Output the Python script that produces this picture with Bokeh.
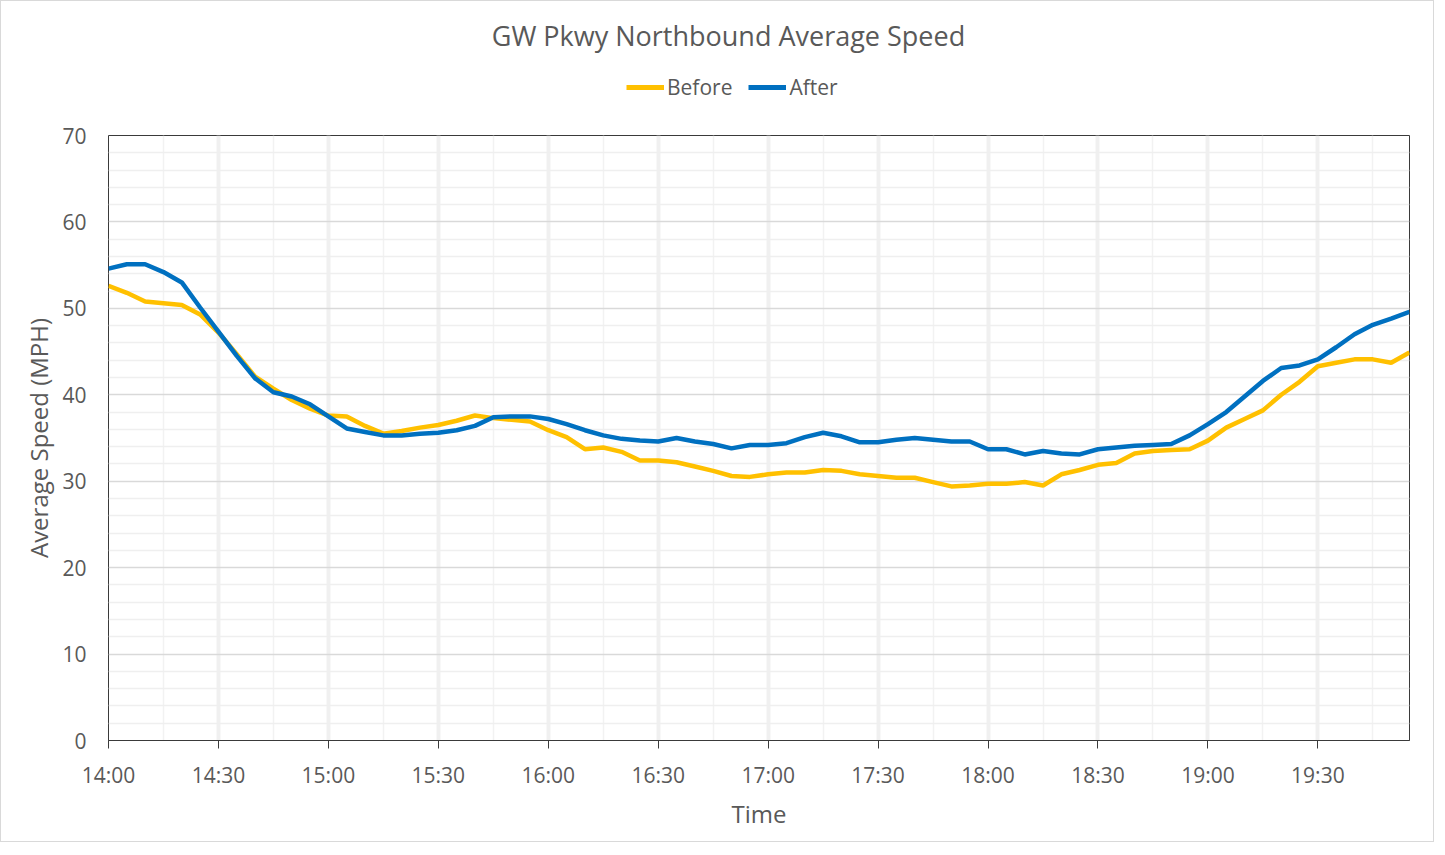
from bokeh.plotting import figure
from bokeh.layouts import column
from bokeh.models import FixedTicker, Legend, LegendItem, Range1d
from bokeh.core.properties import value
from bokeh.embed import file_html
from bokeh.resources import INLINE

# ---------------- data ----------------
times = ["14:00", "14:05", "14:10", "14:15", "14:20", "14:25",
         "14:30", "14:35", "14:40", "14:45", "14:50", "14:55",
         "15:00", "15:05", "15:10", "15:15", "15:20", "15:25",
         "15:30", "15:35", "15:40", "15:45", "15:50", "15:55",
         "16:00", "16:05", "16:10", "16:15", "16:20", "16:25",
         "16:30", "16:35", "16:40", "16:45", "16:50", "16:55",
         "17:00", "17:05", "17:10", "17:15", "17:20", "17:25",
         "17:30", "17:35", "17:40", "17:45", "17:50", "17:55",
         "18:00", "18:05", "18:10", "18:15", "18:20", "18:25",
         "18:30", "18:35", "18:40", "18:45", "18:50", "18:55",
         "19:00", "19:05", "19:10", "19:15", "19:20", "19:25",
         "19:30", "19:35", "19:40", "19:45", "19:50", "19:55"]

before = [52.6, 51.8, 50.8, 50.6, 50.4, 49.3, 47.2, 44.7, 42.1, 40.7, 39.4, 38.4,
          37.6, 37.5, 36.4, 35.5, 35.8, 36.2, 36.5, 37.0, 37.6, 37.3, 37.1, 36.9,
          35.9, 35.1, 33.7, 33.9, 33.4, 32.4, 32.4, 32.2, 31.7, 31.2, 30.6, 30.5,
          30.8, 31.0, 31.0, 31.3, 31.2, 30.8, 30.6, 30.4, 30.4, 29.9, 29.4, 29.5,
          29.7, 29.7, 29.9, 29.5, 30.8, 31.3, 31.9, 32.1, 33.2, 33.5, 33.6, 33.7,
          34.7, 36.2, 37.2, 38.2, 40.0, 41.5, 43.3, 43.7, 44.1, 44.1, 43.7, 44.9]

after = [54.6, 55.1, 55.1, 54.2, 53.0, 50.1, 47.3, 44.5, 41.9, 40.3, 39.8, 38.9,
         37.5, 36.1, 35.7, 35.3, 35.3, 35.5, 35.6, 35.9, 36.4, 37.4, 37.5, 37.5,
         37.2, 36.6, 35.9, 35.3, 34.9, 34.7, 34.6, 35.0, 34.6, 34.3, 33.8, 34.2,
         34.2, 34.4, 35.1, 35.6, 35.2, 34.5, 34.5, 34.8, 35.0, 34.8, 34.6, 34.6,
         33.7, 33.7, 33.1, 33.5, 33.2, 33.1, 33.7, 33.9, 34.1, 34.2, 34.3, 35.3,
         36.6, 38.0, 39.8, 41.6, 43.1, 43.4, 44.1, 45.5, 47.0, 48.1, 48.8, 49.6]

tick_labels = ["14:00", "14:30", "15:00", "15:30", "16:00", "16:30",
               "17:00", "17:30", "18:00", "18:30", "19:00", "19:30"]
y_ticks = [0, 10, 20, 30, 40, 50, 60, 70]

title_text = "GW Pkwy Northbound Average Speed"
series_names = ["Before", "After"]
series_colors = ["#FFC000", "#0070C0"]

# ---------------- helpers ----------------
def to_min(t):
    h, m = t.split(":")
    return (int(h) - 14) * 60 + int(m)

x = [to_min(t) for t in times]
major_x = [to_min(t) for t in tick_labels]
minor_x = [m + 15 for m in major_x]
minor_y = [v for v in range(0, 71, 2) if v % 10 != 0]

FONT = "Open Sans"
GRAY = "#595959"
W = 1432
TOP_H = 110
MAIN_H = 730
LEFT = 107
RIGHT = 24

# ---------------- header (title + legend) ----------------
head = figure(width=W, height=TOP_H, output_backend="svg", toolbar_location=None,
              title=None,
              x_range=Range1d(LEFT, W - RIGHT), y_range=Range1d(0, TOP_H),
              x_axis_location=None, y_axis_location=None,
              min_border_left=LEFT, min_border_right=RIGHT,
              min_border_top=0, min_border_bottom=0)
head.grid.visible = False
head.outline_line_color = None
head.background_fill_color = "white"
head.border_fill_color = "white"

# title (header coordinates: x from layout left, y measured up from header bottom)
head.text(x=[727], y=[76], text=[title_text], text_align="center",
          text_baseline="alphabetic", text_font=value(FONT),
          text_font_size="27px", text_color=GRAY)

# legend keys (renderers hold no visible points)
nan = float("nan")
lg_before = head.line([LEFT, LEFT], [nan, nan], line_color=series_colors[0], line_width=5)
lg_after = head.line([LEFT, LEFT], [nan, nan], line_color=series_colors[1], line_width=5)
legend = Legend(items=[LegendItem(label=series_names[0], renderers=[lg_before]),
                       LegendItem(label=series_names[1], renderers=[lg_after])],
                orientation="horizontal", location=(518, 10),
                glyph_width=38, glyph_height=24, label_height=24,
                label_standoff=3, spacing=16, padding=0, margin=0,
                border_line_color=None, background_fill_alpha=0,
                label_text_font=FONT, label_text_font_size="21px",
                label_text_color=GRAY)
head.add_layout(legend, "center")

# ---------------- main chart ----------------
p = figure(width=W, height=MAIN_H, output_backend="svg", toolbar_location=None,
           title=None,
           x_range=Range1d(0, 355), y_range=Range1d(0, 70),
           min_border_left=LEFT, min_border_right=RIGHT, min_border_top=24,
           min_border_bottom=101)

p.outline_line_color = "#3a3a3a"
p.outline_line_width = 1
p.background_fill_color = "white"
p.border_fill_color = "white"

# x axis
p.xaxis.ticker = FixedTicker(ticks=major_x, minor_ticks=minor_x)
p.xaxis.major_label_overrides = {m: t for m, t in zip(major_x, tick_labels)}
p.xaxis.axis_line_color = "#3a3a3a"
p.xaxis.major_tick_line_color = "#3a3a3a"
p.xaxis.major_tick_out = 8
p.xaxis.major_tick_in = 0
p.xaxis.minor_tick_out = 0
p.xaxis.minor_tick_in = 0
p.xaxis.major_label_standoff = 12
p.xaxis.major_label_text_font = FONT
p.xaxis.major_label_text_font_size = "21px"
p.xaxis.major_label_text_color = GRAY
p.xaxis.axis_label = "Time"
p.xaxis.axis_label_text_font = FONT
p.xaxis.axis_label_text_font_size = "24px"
p.xaxis.axis_label_text_font_style = "normal"
p.xaxis.axis_label_text_color = GRAY
p.xaxis.axis_label_standoff = 5

# y axis
p.yaxis.ticker = FixedTicker(ticks=y_ticks, minor_ticks=minor_y)
p.yaxis.axis_line_color = None
p.yaxis.major_tick_line_color = None
p.yaxis.major_tick_out = 0
p.yaxis.major_tick_in = 0
p.yaxis.minor_tick_out = 0
p.yaxis.minor_tick_in = 0
p.yaxis.major_label_standoff = 22
p.yaxis.major_label_text_font = FONT
p.yaxis.major_label_text_font_size = "21px"
p.yaxis.major_label_text_color = GRAY
p.yaxis.axis_label = "Average Speed (MPH)"
p.yaxis.axis_label_text_font = FONT
p.yaxis.axis_label_text_font_size = "24px"
p.yaxis.axis_label_text_font_style = "normal"
p.yaxis.axis_label_text_color = GRAY
p.yaxis.axis_label_standoff = 4

# grids
p.xgrid.grid_line_color = "#F0F0F0"
p.xgrid.grid_line_width = 4
p.xgrid.minor_grid_line_color = "#F2F2F2"
p.xgrid.minor_grid_line_width = 1.5
p.ygrid.grid_line_color = "#D9D9D9"
p.ygrid.grid_line_width = 1.5
p.ygrid.minor_grid_line_color = "#EFEFEF"
p.ygrid.minor_grid_line_width = 1.5

# lines
p.line(x, before, line_color=series_colors[0], line_width=4.5)
p.line(x, after, line_color=series_colors[1], line_width=4.5)

layout = column(head, p, spacing=0)
layout.styles = {"border": "1px solid #d9d9d9"}

open("out.html", "w").write(file_html(layout, INLINE))
